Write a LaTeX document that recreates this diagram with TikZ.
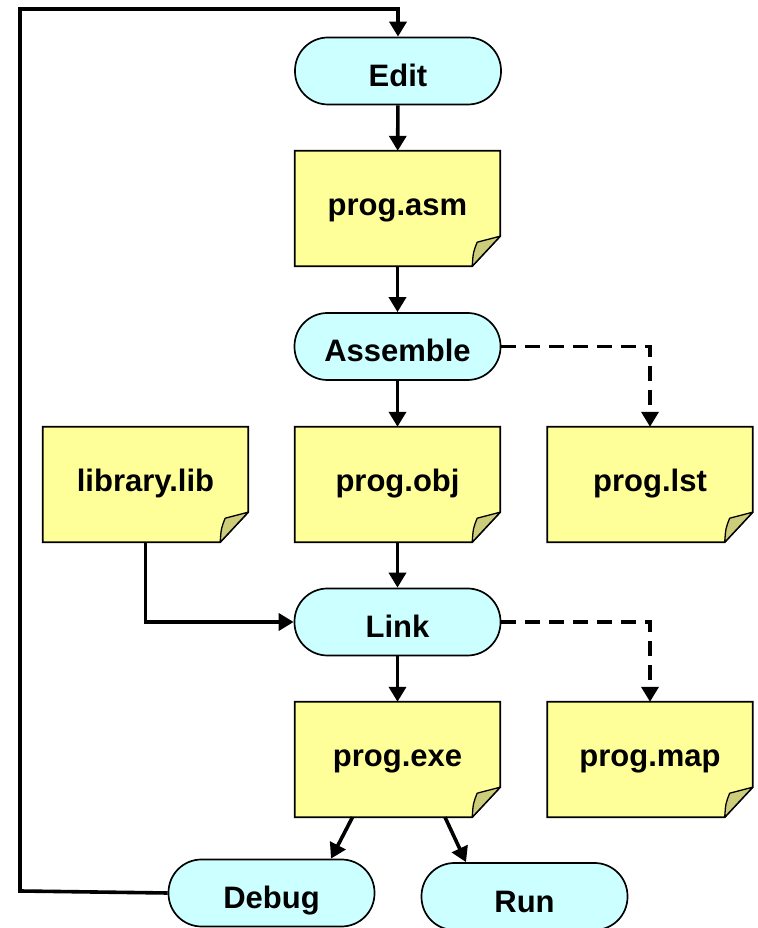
\documentclass[tikz,border=0pt]{standalone}
\usepackage{fontspec}
\setmainfont{Liberation Sans}
\usetikzlibrary{arrows.meta,calc,backgrounds}

\definecolor{procfill}{HTML}{CCFFFF}
\definecolor{notefillc}{HTML}{FFFF99}
\definecolor{foldfillc}{HTML}{CCCC7A}

\tikzset{
  x=1pt, y=1pt,
  proc/.style={draw=black, line width=1.7pt, fill=procfill,
    rounded corners=33pt, minimum width=206pt, minimum height=67pt,
    inner sep=0pt, text height=31pt, text depth=0pt,
    font=\fontsize{31}{31}\selectfont\bfseries},
  notetext/.style={draw=none, fill=none, minimum width=205pt, minimum height=115pt,
    inner sep=0pt, text height=22pt, text depth=7pt,
    font=\fontsize{31}{31}\selectfont\bfseries},
  notebody/.style={draw=black, line width=1.7pt, fill=notefillc, line join=miter},
  notefold/.style={draw=black, line width=1.3pt, fill=foldfillc, line join=round},
  flow/.style={draw=black, line width=3.6pt,
    -{Triangle[length=15pt,width=17pt]}},
  dflow/.style={flow, dash pattern=on 15pt off 9pt}
}

% a sheet of paper with a turned-up bottom-right corner
\newcommand\sheet[3]{%
  \node[notetext] (#1) at (#2) {#3};
  \begin{scope}[on background layer]
    \filldraw[notebody] (#1.north west) -- (#1.north east)
      -- ([yshift=30pt]#1.south east) -- ([xshift=-28pt]#1.south east)
      -- (#1.south west) -- cycle;
    \filldraw[notefold] ([xshift=-28pt]#1.south east)
      .. controls ([xshift=-27pt,yshift=14pt]#1.south east) .. ([xshift=-23pt,yshift=24pt]#1.south east)
      -- ([yshift=30pt]#1.south east) -- cycle;
  \end{scope}}

\begin{document}
\begin{tikzpicture}
  \begin{scope}[on background layer]
    \fill[white] (0,0) rectangle (757,928);
  \end{scope}
  \useasboundingbox (0,0) rectangle (757,928);

  % process steps
  \node[proc] (edit) at (398,857) {Edit};
  \node[proc] (assemble) at (397.5,581.5) {Assemble};
  \node[proc] (link) at (397.5,306) {Link};
  \node[proc] (debug) at (271.5,35) {Debug};
  \node[proc] (run) at (524.5,31.5) {Run};

  % files
  \sheet{asm}{397.5,719.5}{prog.asm}
  \sheet{lib}{145.5,443.5}{library.lib}
  \sheet{obj}{397.5,443.5}{prog.obj}
  \sheet{lst}{650,443.5}{prog.lst}
  \sheet{exe}{397.5,168.5}{prog.exe}
  \sheet{map}{650,168.5}{prog.map}

  % helper points for the loop and the slanted arrows
  \coordinate (loopL) at (20,37);
  \coordinate (loopT) at (20,919);
  \coordinate (exeA) at ([xshift=-45pt]exe.south);
  \coordinate (exeB) at ([xshift=47.5pt]exe.south);
  \coordinate (debugIn) at ([xshift=59.5pt]debug.north);
  \coordinate (runIn) at ([xshift=-58.5pt]run.north);

  % main flow
  \draw[flow] (edit) -- (asm);
  \draw[flow] (asm) -- (assemble);
  \draw[flow] (assemble) -- (obj);
  \draw[flow] (obj) -- (link);
  \draw[flow] (link) -- (exe);
  \draw[flow] (lib.south) |- (link.west);
  \draw[flow] (exeA) -- (debugIn);
  \draw[flow] (exeB) -- (runIn);

  % listing and map outputs
  \draw[dflow] (assemble.east) -| (lst.north);
  \draw[dflow] (link.east) -| (map.north);

  % back to editing after debugging
  \draw[flow] (debug.west) -- (loopL) -- (loopT) -| (edit.north);
\end{tikzpicture}
\end{document}
